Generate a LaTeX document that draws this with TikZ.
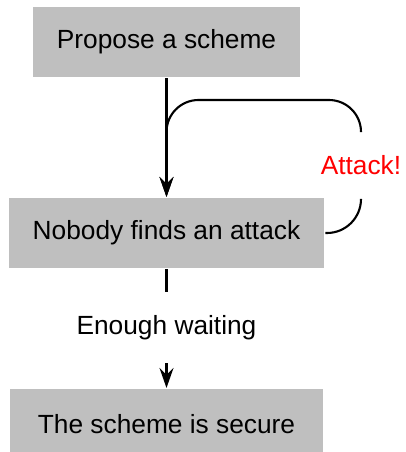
\documentclass[tikz,border=0pt]{standalone}
\usepackage{fontspec}
\setmainfont{Liberation Sans}
\usetikzlibrary{arrows.meta}

\tikzset{
  stepbox/.style={fill=black!25, inner xsep=24pt, minimum height=70pt},
  lbl/.style={inner sep=0pt, minimum height=65pt},
  arr/.style={-{Stealth[length=20pt,width=14pt,inset=7pt]}},
}

\begin{document}
\begin{tikzpicture}[x=1pt, y=-1pt, line width=2.1pt,
    every node/.style={font=\fontsize{26.3pt}{31pt}\selectfont}]
    \useasboundingbox (0,0) rectangle (405,452);
    \clip (0,0) rectangle (405,452);

    \node[stepbox] (propose) at (166.5,42) {Propose a scheme};
    \node[stepbox] (nobody) at (166.5,233) {Nobody finds an attack};
    \node[stepbox, minimum width=313pt] (secure) at (166.5,424) {The scheme is secure};
    \node[lbl, text=red] (attack) at (361,165.5) {Attack!};
    \node[lbl, minimum height=69pt] (waiting) at (166.5,327.5) {Enough waiting};
    \coordinate (bend) at (166.5,100);

    \draw[arr] (propose) -- (nobody);
    \draw[rounded corners=34pt] (nobody.east) -| (attack.south);
    \draw[arr, rounded corners=32pt] (attack.north) |- (bend) -- (nobody.north);
    \draw (nobody) -- (waiting);
    \draw[arr] (waiting) -- (secure);
\end{tikzpicture}
\end{document}
